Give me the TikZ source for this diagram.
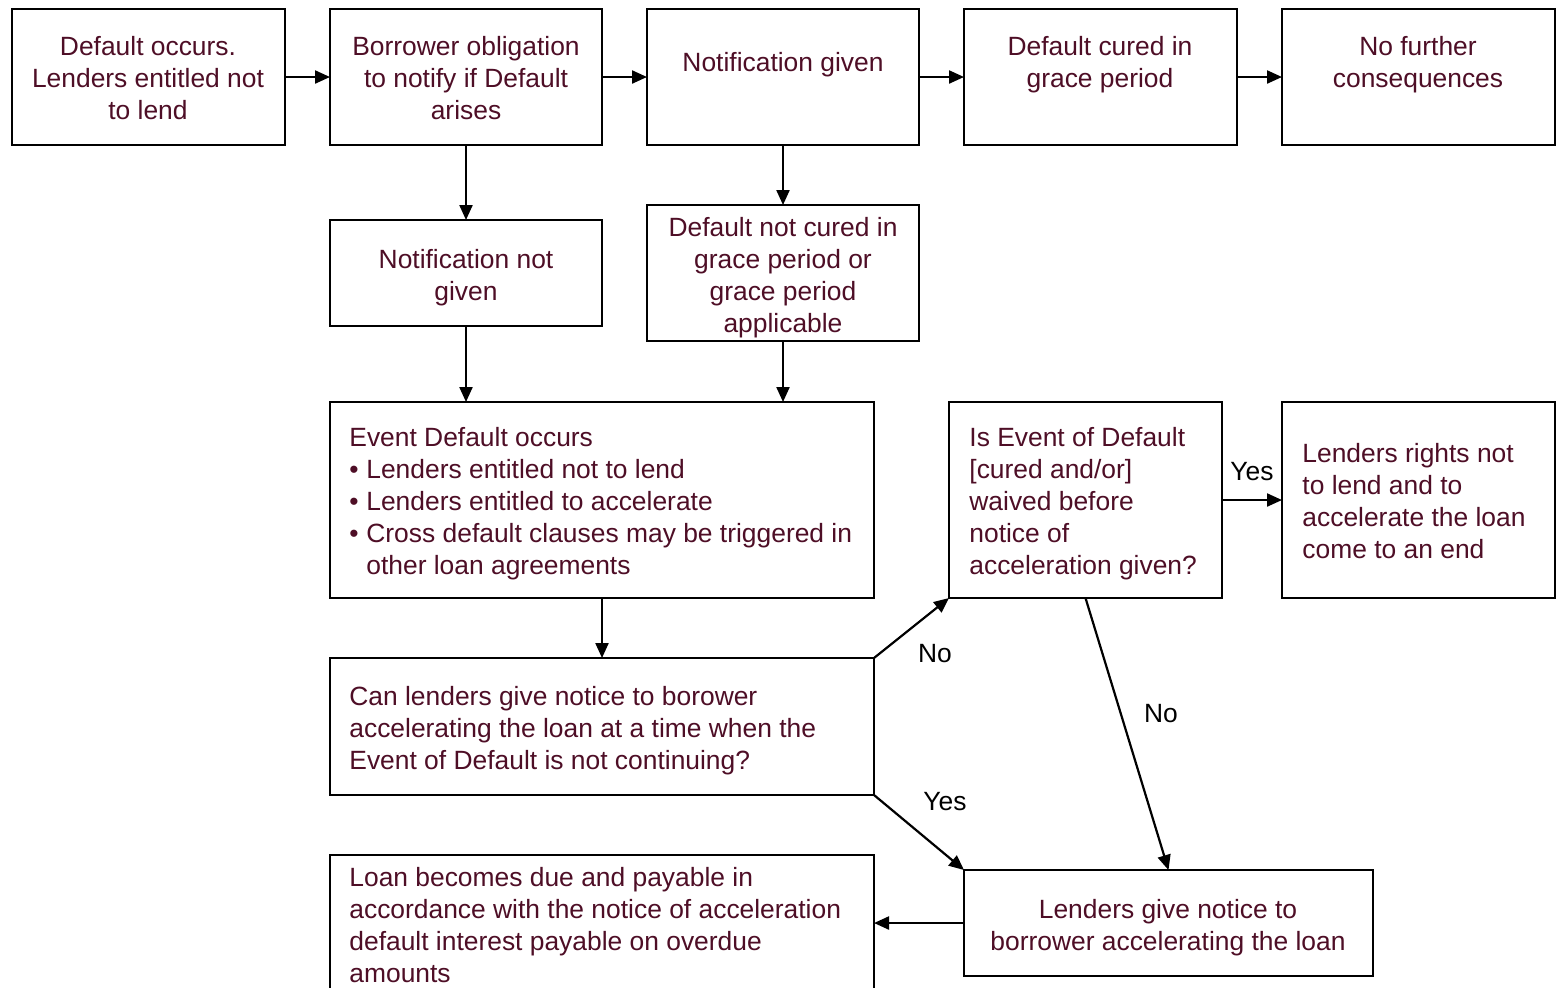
\documentclass[tikz,border=0pt]{standalone}
\usepackage{fontspec}
\setmainfont{Liberation Sans}
\usetikzlibrary{arrows.meta}
\definecolor{txtc}{RGB}{78,14,38}
\begin{document}
\begin{tikzpicture}[x=0.5pt,y=-0.5pt,
  box/.style={draw,line width=1pt,anchor=north west,inner sep=0pt,outer sep=0pt},
  txt/.style={text=txtc,font=\fontsize{13.2}{16}\selectfont,inner sep=0pt,align=center},
  ltxt/.style={txt,align=left,anchor=west},
  lab/.style={font=\fontsize{13.2}{16}\selectfont,inner sep=0pt},
  arr/.style={line width=1.1pt,-{Triangle[length=7.5pt,width=6.5pt]}}]
\useasboundingbox (0,0) rectangle (1561,987);
\fill[white] (0,0) rectangle (1561,987);
% boxes
\node[box,minimum width=136.5pt,minimum height=68pt] (A) at (12,9) {};
\node[box,minimum width=136pt,minimum height=68pt] (B) at (330,9) {};
\node[box,minimum width=136pt,minimum height=68pt] (C) at (647,9) {};
\node[box,minimum width=136.5pt,minimum height=68pt] (D) at (964,9) {};
\node[box,minimum width=136.5pt,minimum height=68pt] (E) at (1282,9) {};
\node[box,minimum width=136pt,minimum height=53pt] (F) at (330,220) {};
\node[box,minimum width=136pt,minimum height=68pt] (G) at (647,205) {};
\node[box,minimum width=272pt,minimum height=98pt] (H) at (330,402) {};
\node[box,minimum width=136.5pt,minimum height=98pt] (I) at (949,402) {};
\node[box,minimum width=136.5pt,minimum height=98pt] (J) at (1282,402) {};
\node[box,minimum width=272pt,minimum height=68.5pt] (K) at (330,658) {};
\node[box,minimum width=272pt,minimum height=80pt] (L) at (330,855) {};
\node[box,minimum width=204.5pt,minimum height=53pt] (M) at (964,870) {};
% texts
\node[txt] (At) at (148,78) {Default occurs.\\Lenders entitled not\\to lend};
\node[txt] (Bt) at (466,78) {Borrower obligation\\to notify if Default\\arises};
\node[txt] (Ct) at (783,65) {Notification given};
\node[txt] (Dt) at (1100,65) {Default cured in\\grace period};
\node[txt] (Et) at (1418,65) {No further\\consequences};
\node[txt] (Ft) at (466,278) {Notification not\\given};
\node[txt] (Gt) at (783,278) {Default not cured in\\grace period or\\grace period\\applicable};
\node[ltxt] (Ht) at (349,504) {Event Default occurs\\
\makebox[8.5pt][l]{\textbullet}Lenders entitled not to lend\\
\makebox[8.5pt][l]{\textbullet}Lenders entitled to accelerate\\
\makebox[8.5pt][l]{\textbullet}Cross default clauses may be triggered in\\
\hspace*{8.5pt}other loan agreements};
\node[ltxt] (It) at (969,504) {Is Event of Default\\{}[cured and/or]\\waived before\\notice of\\acceleration given?};
\node[ltxt] (Jt) at (1302,501) {Lenders rights not\\to lend and to\\accelerate the loan\\come to an end};
\node[ltxt] (Kt) at (349,731) {Can lenders give notice to borower\\accelerating the loan at a time when the\\Event of Default is not continuing?};
\node[ltxt] (Lt) at (349,925) {Loan becomes due and payable in\\accordance with the notice of acceleration\\default interest payable on overdue\\amounts};
\node[txt] (Mt) at (1168,928) {Lenders give notice to\\borrower accelerating the loan};
% connectors
\draw[arr] (A.east) -- (B.west);
\draw[arr] (B.east) -- (C.west);
\draw[arr] (C.east) -- (D.west);
\draw[arr] (D.east) -- (E.west);
\draw[arr] (B.south) -- (F.north);
\draw[arr] (C.south) -- (G.north);
\draw[arr] (F.south) -- (F.south |- H.north);
\draw[arr] (G.south) -- (G.south |- H.north);
\draw[arr] (H.south) -- (K.north);
\draw[arr] (K.north east) -- (I.south west);
\draw[arr] (K.south east) -- (M.north west);
\draw[arr] (I.south) -- (M.north);
\draw[arr] (I.east) -- (J.west);
\draw[arr] (M.west) -- (M.west -| L.east);
% labels
\node[lab] (l1) at (935,654) {No};
\node[lab] (l2) at (945,802) {Yes};
\node[lab] (l3) at (1161,714) {No};
\node[lab] (l4) at (1252,472) {Yes};
\end{tikzpicture}
\end{document}
